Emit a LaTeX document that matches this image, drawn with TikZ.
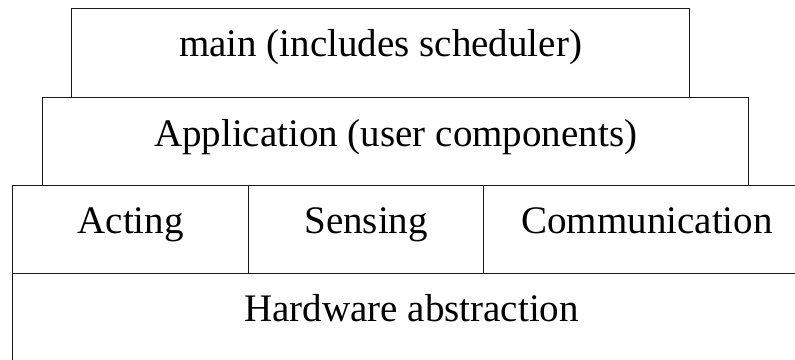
\documentclass[tikz,border=0pt]{standalone}
\usepackage{fontspec}
\setmainfont{Liberation Serif}
\begin{document}
\begin{tikzpicture}[x=1pt,y=-1pt,
  layer/.style={draw=black!90,line width=1.2pt,rectangle,inner sep=0pt,anchor=north west},
  lbl/.style={anchor=base,inner sep=0pt,font=\fontsize{39}{47}\selectfont}]
\useasboundingbox (0,0) rectangle (795,359);
\clip (0,0) rectangle (795,359);
% boxes
\node[layer,minimum width=618pt,minimum height=89pt] (mainbox) at (71,8) {};
\node[layer,minimum width=706pt,minimum height=88pt] (appbox) at (42,97) {};
\node[layer,minimum width=236pt,minimum height=88pt] (actbox) at (12,185) {};
\node[layer,minimum width=235pt,minimum height=88pt] (senbox) at (248,185) {};
\node[layer,minimum width=327pt,minimum height=88pt] (combox) at (483,185) {};
\node[layer,minimum width=798pt,minimum height=88pt] (hwbox) at (12,273) {};
% labels
\node[lbl] (maintext) at ([yshift=-48pt]mainbox.north) {main (includes scheduler)};
\node[lbl] (apptext) at ([yshift=-49pt]appbox.north) {Application (user components)};
\node[lbl] (acttext) at ([yshift=-48pt]actbox.north) {Acting};
\node[lbl] (sentext) at ([yshift=-48pt]senbox.north) {Sensing};
\node[lbl] (comtext) at ([yshift=-48pt]combox.north) {Communication};
\node[lbl] (hwtext) at ([yshift=-48pt]hwbox.north) {Hardware abstraction};
\end{tikzpicture}
\end{document}
